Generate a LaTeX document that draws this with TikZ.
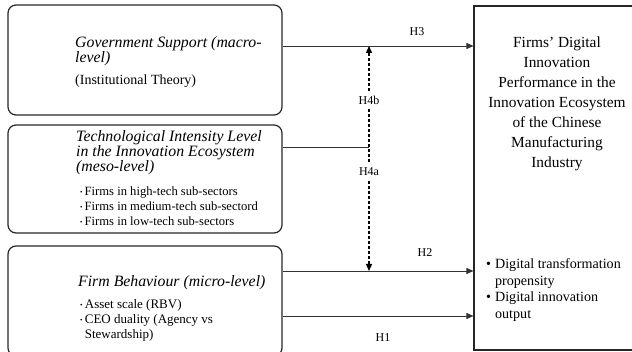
\documentclass[tikz,border=0pt]{standalone}
\usepackage{fontspec}
\setmainfont{Liberation Serif}
\usepackage{tikz}
\usetikzlibrary{positioning, arrows.meta}
\tikzstyle{levelbox} = [rectangle, rounded corners=8pt, minimum width=274pt, line width=1.2pt, draw=black!85]
\tikzstyle{outcome} = [rectangle, minimum width=166pt, minimum height=344pt, line width=1.1pt, draw=black!85]
\tikzstyle{heading} = [font=\fontsize{15.8}{15}\selectfont\itshape, align=left, inner sep=0pt]
\tikzstyle{items} = [font=\fontsize{12.6}{15}\selectfont, align=left, inner sep=0pt]
\tikzstyle{hyp} = [font=\fontsize{12}{13}\selectfont, inner sep=0pt]
\tikzstyle{arrow} = [line width=0.8pt, draw=black!80, -{Triangle[length=7pt,width=6pt]}]
\tikzstyle{dashline} = [line width=1.3pt, dash pattern=on 3pt off 2pt]
\tikzstyle{dasharrow} = [dashline, -{Triangle[length=7pt,width=6pt]}]
\newcommand{\sbul}{\raisebox{0.25ex}{\scalebox{0.55}{\textbullet}}\,}

\begin{document}
\begin{tikzpicture}[x=1pt, y=-1pt]
        \clip (0,0) rectangle (632,352);
        % the three levels and the outcome
        \node (gov) [levelbox, minimum height=110pt] at (145,60) {};
        \node (meso) [levelbox, minimum height=108pt] at (145,179) {};
        \node (firm) [levelbox, minimum height=110pt] at (145,301) {};
        \node (perf) [outcome] at (557,178) {};

        % base = last line of each block
        \node (govtitle) [heading, anchor=base west] at (75,63) {Government Support (macro-\\level)};
        \node (govtheory) [items, font=\fontsize{14}{16}\selectfont, anchor=base west] at (75,85) {(Institutional Theory)};
        \node (mesotitle) [heading, anchor=base west] at (76,172) {Technological Intensity Level\\in the Innovation Ecosystem\\(meso-level)};
        \node (mesoitems) [items, anchor=base west] at (80,226) {\sbul Firms in high-tech sub-sectors\\\sbul Firms in medium-tech sub-sectord\\\sbul Firms in low-tech sub-sectors};
        \node (firmtitle) [heading, anchor=base west] at (78,287) {Firm Behaviour (micro-level)};
        \node (firmitems) [items, font=\fontsize{13}{15}\selectfont, anchor=base west] at (80,339) {\sbul Asset scale (RBV)\\\sbul CEO duality (Agency vs\\\phantom{\sbul}Stewardship)};
        \node (perftitle) [font=\fontsize{15.4}{20}\selectfont, align=center, inner sep=0pt, anchor=base] at (557,168) {Firms’ Digital\\Innovation\\Performance in the\\Innovation Ecosystem\\of the Chinese\\Manufacturing\\Industry};
        \node (perfitems) [items, font=\fontsize{14.1}{16.5}\selectfont, anchor=base west] at (486,318.5) {\textbullet\hspace{4pt}Digital transformation\\\phantom{\textbullet\hspace{4pt}}propensity\\\textbullet\hspace{4pt}Digital innovation\\\phantom{\textbullet\hspace{4pt}}output};

        % hypotheses
        \coordinate (h3s) at ([yshift=14pt]gov.east);
        \coordinate (h4j) at (369,147);
        \coordinate (h2s) at ([yshift=30pt]firm.east);
        \coordinate (h1s) at ([yshift=-15pt]firm.east);
        \node (h3) [hyp, anchor=base] at (417,36) {H3};
        \node (h4b) [hyp, inner sep=5pt] at (369,100) {H4b};
        \node (h4a) [hyp, inner sep=5pt] at (369,172) {H4a};
        \node (h2) [hyp, anchor=base] at (425,257) {H2};
        \node (h1) [hyp, anchor=base] at (383,342) {H1};

        \draw [arrow] (h3s) -- (h3s -| perf.west);
        \draw [line width=0.8pt, draw=black!80] ([yshift=32pt]meso.east) -- (h4j);
        \draw [arrow] (h2s) -- (h2s -| perf.west);
        \draw [arrow] (h1s) -- (h1s -| perf.west);
        \draw [dasharrow] (h4b) -- (h4b |- h3s);
        \draw [dashline] (h4b) -- (h4a);
        \draw [dasharrow] (h4a) -- (h4a |- h2s);
\end{tikzpicture}
\end{document}
